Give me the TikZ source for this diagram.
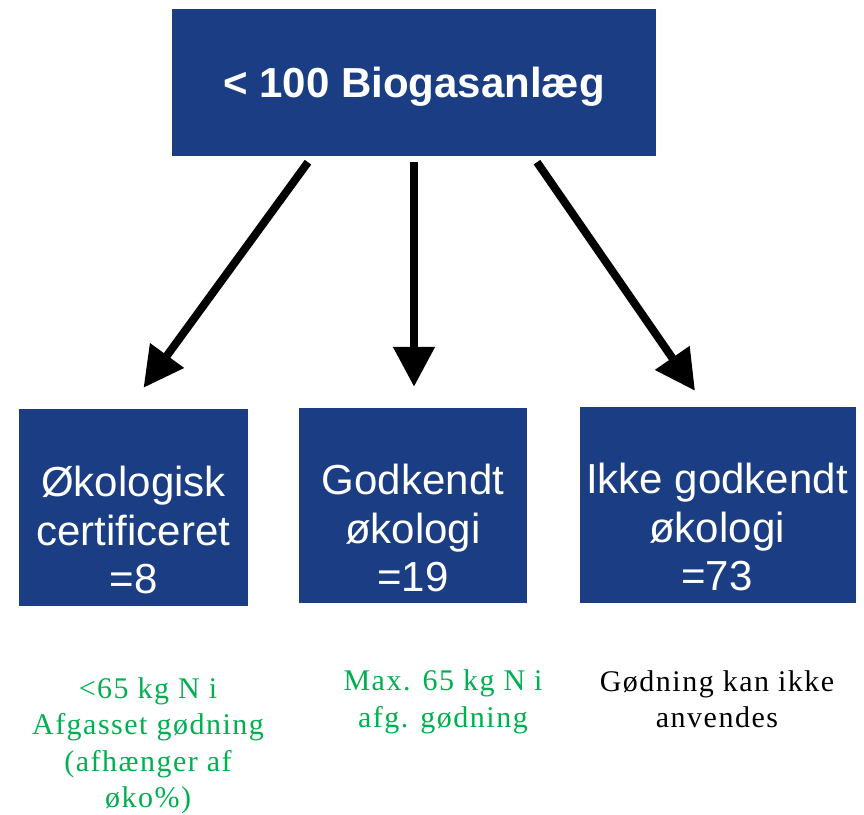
\documentclass[tikz,border=0pt]{standalone}
\usepackage{fontspec}
\setmainfont{Liberation Serif}
\newfontfamily\arialfont{Liberation Sans}
\newfontfamily\notefont[LetterSpace=5]{Liberation Serif}
\usetikzlibrary{arrows.meta}
\definecolor{boxblue}{HTML}{1B3D83}
\definecolor{notegreen}{HTML}{00B050}

\begin{document}
\begin{tikzpicture}[x=1pt, y=-1pt]
	\tikzstyle{place}=[rectangle, fill=boxblue, inner sep=0pt]
	\tikzstyle{boxtext}=[text=white, align=center, inner sep=0pt, font=\arialfont\fontsize{42}{48.5}\selectfont]
	\tikzstyle{note}=[align=center, inner sep=0pt, font=\notefont\fontsize{30}{36.5}\selectfont]
	\tikzstyle{bigarrow}=[line width=8pt, -{Triangle[length=40pt, width=40pt]}]
	\useasboundingbox (0, 0) rectangle (864, 814);

	\draw node[place, minimum width=484pt, minimum height=147pt] at (414, 82.5) (anlaeg) {};
	\draw node[place, minimum width=229pt, minimum height=197pt] at (133.5, 507.5) (oeko) {};
	\draw node[place, minimum width=228pt, minimum height=195pt] at (413, 505.5) (godk) {};
	\draw node[place, minimum width=276pt, minimum height=196pt] at (718, 505) (ikke) {};

	\draw node[boxtext, font=\arialfont\bfseries\fontsize{42}{48}\selectfont] at (414, 87) (anlaegtxt) {< 100 Biogasanlæg};
	\draw node[boxtext] at (133.5, 530) (oekotxt) {Økologisk\\certificeret\\=8};
	\draw node[boxtext] at (413, 528) (godktxt) {Godkendt\\økologi\\=19};
	\draw node[boxtext] at (717, 527) (ikketxt) {Ikke godkendt\\økologi\\=73};

	\draw node[note, text=notegreen] at (148, 746) (oekonote) {<65 kg N i\\Afgasset gødning\\(afhænger af\\øko\%)};
	\draw node[note, text=notegreen] at (443, 702) (godknote) {Max. 65 kg N i\\afg. gødning};
	\draw node[note] at (717, 699) (ikkenote) {Gødning kan ikke\\anvendes};

	\draw [bigarrow] ([xshift=-106pt, yshift=-6pt]anlaeg.south) -- ([xshift=10pt, yshift=21pt]oeko.north);
	\draw [bigarrow] ([yshift=-6pt]anlaeg.south) -- ([xshift=1pt, yshift=21pt]godk.north);
	\draw [bigarrow] ([xshift=123pt, yshift=-6pt]anlaeg.south) -- ([xshift=-23pt, yshift=16pt]ikke.north);
\end{tikzpicture}
\end{document}
